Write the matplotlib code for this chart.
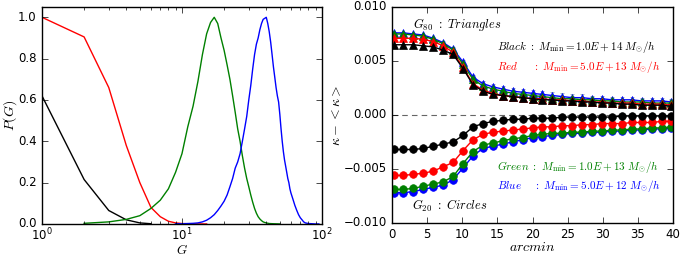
import numpy as np
import matplotlib
matplotlib.use("Agg")
import matplotlib.pyplot as plt

plt.style.use("classic")
plt.rcParams["font.size"] = 8.5
plt.rcParams["mathtext.fontset"] = "cm"

# ---- left panel: P(G) ----
g_black = [1, 2, 3, 4, 5, 6]
p_black = [0.62, 0.215, 0.065, 0.02, 0.005, 0.001]

g_red = [1, 2, 3, 4, 5, 6, 7, 8, 9, 10, 11, 12, 13, 14, 15]
p_red = [1.0, 0.905, 0.66, 0.38, 0.2, 0.08, 0.035, 0.013, 0.005, 0.002, 0.001, 0, 0, 0, 0]

g_green = [2, 3, 4, 5, 6, 7, 8, 9, 10, 11, 12, 13, 14, 15, 16, 17, 18, 19, 20,
           21, 22, 23, 24, 25, 26, 27, 28, 29, 30, 31, 32, 33, 34, 35, 36, 37,
           38, 39, 40, 42, 45, 50]
p_green = [0.003, 0.01, 0.022, 0.04, 0.075, 0.115, 0.17, 0.25, 0.34, 0.47, 0.57,
           0.69, 0.82, 0.92, 0.975, 1.0, 0.97, 0.9, 0.84, 0.77, 0.7, 0.62, 0.54,
           0.46, 0.40, 0.33, 0.27, 0.22, 0.18, 0.14, 0.105, 0.075, 0.052, 0.035,
           0.024, 0.016, 0.01, 0.007, 0.005, 0.002, 0.001, 0.0]

g_blue = [9, 10, 11, 12, 13, 14, 15, 16, 17, 18, 19, 20, 21, 22, 23, 24, 25, 26,
          27, 28, 29, 30, 31, 32, 33, 34, 35, 36, 37, 38, 39, 40, 41, 42, 43, 44,
          45, 46, 47, 48, 49, 50, 51, 52, 53, 54, 55, 56, 57, 58, 59, 60, 62, 64,
          66, 68, 70, 72, 74, 76, 80, 85, 90, 95]
p_blue = [0.001, 0.001, 0.002, 0.003, 0.005, 0.01, 0.018, 0.03, 0.045, 0.065,
          0.087, 0.11, 0.14, 0.18, 0.22, 0.27, 0.3, 0.34, 0.4, 0.46, 0.52, 0.6,
          0.67, 0.75, 0.82, 0.87, 0.9, 0.94, 0.97, 0.99, 0.995, 1.0, 0.97, 0.93,
          0.88, 0.82, 0.76, 0.71, 0.66, 0.62, 0.59, 0.53, 0.46, 0.4, 0.35, 0.31,
          0.28, 0.25, 0.22, 0.2, 0.17, 0.15, 0.12, 0.09, 0.066, 0.045, 0.03, 0.02,
          0.01, 0.005, 0.002, 0.001, 0.0, 0.0]

# ---- right panel: kappa - <kappa> ----
arcmin = np.linspace(0.2, 39.8, 29)

g80_black = [0.0065, 0.0065, 0.0065, 0.0064, 0.0063, 0.0060, 0.0056, 0.0043, 0.0028,
             0.0022, 0.0019, 0.0018, 0.0017, 0.0016, 0.0015, 0.0014, 0.0014, 0.0013,
             0.0013, 0.0012, 0.0012, 0.0011, 0.0011, 0.0010, 0.0010, 0.0009, 0.0009,
             0.0009, 0.0008]
g80_red = [0.0071, 0.0071, 0.0071, 0.0070, 0.0068, 0.0064, 0.0058, 0.0044, 0.0029,
           0.0023, 0.0020, 0.0018, 0.0017, 0.0016, 0.0015, 0.0015, 0.0014, 0.0014,
           0.0013, 0.0013, 0.0012, 0.0012, 0.0011, 0.0011, 0.0011, 0.0010, 0.0010,
           0.0010, 0.0009]
g80_green = [0.0075, 0.0075, 0.0074, 0.0073, 0.0070, 0.0066, 0.0060, 0.0047, 0.0033,
             0.0027, 0.0024, 0.0022, 0.0020, 0.0019, 0.0018, 0.0017, 0.0016, 0.0015,
             0.0015, 0.0014, 0.0014, 0.0013, 0.0013, 0.0012, 0.0012, 0.0012, 0.0011,
             0.0011, 0.0011]
g80_blue = [0.0076, 0.0076, 0.0075, 0.0074, 0.0071, 0.0067, 0.0061, 0.0049, 0.0035,
            0.0029, 0.0026, 0.0024, 0.0022, 0.0021, 0.0020, 0.0019, 0.0018, 0.0017,
            0.0016, 0.0016, 0.0015, 0.0015, 0.0014, 0.0014, 0.0014, 0.0013, 0.0013,
            0.0013, 0.0012]

g20_black = [-0.0032, -0.0032, -0.0032, -0.0031, -0.0029, -0.0027, -0.0025, -0.0019,
             -0.0011, -0.0008, -0.0006, -0.0005, -0.0004, -0.0004, -0.0003, -0.0003,
             -0.0003, -0.0002, -0.0002, -0.0002, -0.0002, -0.0002, -0.0002, -0.0001,
             -0.0001, -0.0001, -0.0001, -0.0001, -0.0001]
g20_red = [-0.0056, -0.0056, -0.0055, -0.0054, -0.0052, -0.0048, -0.0044, -0.0033,
           -0.0023, -0.0018, -0.0016, -0.0015, -0.0014, -0.0013, -0.0012, -0.0011,
           -0.0011, -0.0010, -0.0010, -0.0009, -0.0009, -0.0008, -0.0008, -0.0008,
           -0.0007, -0.0007, -0.0007, -0.0006, -0.0006]
g20_green = [-0.0069, -0.0069, -0.0068, -0.0066, -0.0064, -0.0062, -0.0057, -0.0045,
             -0.0034, -0.0028, -0.0026, -0.0024, -0.0022, -0.0021, -0.0019, -0.0018,
             -0.0017, -0.0017, -0.0016, -0.0016, -0.0015, -0.0015, -0.0014, -0.0014,
             -0.0013, -0.0013, -0.0012, -0.0012, -0.0011]
g20_blue = [-0.0072, -0.0072, -0.0071, -0.0069, -0.0067, -0.0065, -0.0060, -0.0049,
            -0.0038, -0.0031, -0.0029, -0.0027, -0.0025, -0.0023, -0.0021, -0.0020,
            -0.0019, -0.0018, -0.0017, -0.0017, -0.0016, -0.0016, -0.0015, -0.0015,
            -0.0014, -0.0014, -0.0013, -0.0013, -0.0012]

err = [0.0001, 0.0001, 0.0001, 0.0001, 0.00012, 0.00014, 0.00016, 0.00018, 0.0002,
       0.0002, 0.00022, 0.00024, 0.00025, 0.00026, 0.00027, 0.00028, 0.00029, 0.0003,
       0.0003, 0.0003, 0.0003, 0.0003, 0.0003, 0.0003, 0.0003, 0.0003, 0.0003,
       0.0003, 0.0003]

fig = plt.figure(figsize=(6.88, 2.58), dpi=100, facecolor="white")
ax1 = fig.add_axes([0.061, 0.132, 0.407, 0.841])
ax2 = fig.add_axes([0.570, 0.136, 0.408, 0.837])

ax1.plot(g_black, p_black, color="k", lw=1)
ax1.plot(g_red, p_red, color="r", lw=1)
ax1.plot(g_green, p_green, color="g", lw=1)
ax1.plot(g_blue, p_blue, color="b", lw=1)
ax1.set_xscale("log")
ax1.set_xlim(1, 100)
ax1.set_ylim(0, 1.05)
ax1.set_yticks([0.0, 0.2, 0.4, 0.6, 0.8, 1.0])
ax1.tick_params(axis="x", which="major", pad=2)
ax1.set_xlabel("$G$", fontsize=9.5, labelpad=0)
ax1.set_ylabel("$P(G)$", fontsize=10, labelpad=-1)

series = [("b", g80_blue, g20_blue), ("g", g80_green, g20_green),
          ("r", g80_red, g20_red), ("k", g80_black, g20_black)]
for c, tri, circ in series:
    ax2.errorbar(arcmin, tri, yerr=err, color=c, marker="^", ms=5.5, mec=c,
                 lw=1, elinewidth=0.8, capsize=1.5, ecolor="#7a9aa8")
    ax2.errorbar(arcmin, circ, yerr=err, color=c, marker="o", ms=5.5, mec=c,
                 lw=1, elinewidth=0.8, capsize=1.5, ecolor="#7a9aa8")

ax2.axhline(0, color="0.4", ls="--", dashes=(4, 3), lw=0.8)
ax2.set_xlim(0, 40)
ax2.set_ylim(-0.01, 0.01)
ax2.set_yticks([-0.01, -0.005, 0.0, 0.005, 0.01])
ax2.set_xlabel("$arcmin$", fontsize=10, labelpad=-1)
ax2.set_ylabel(r"$\kappa - <\kappa>$", fontsize=10, labelpad=0)

fs = 9
fm = 8
ax2.text(3.0, 0.0084, r"$G_{80}\ :\ Triangles$", fontsize=fs, va="center")
ax2.text(14.9, 0.0063, r"$Black\ :\ M_{\rm min}=1.0E+14\ M_{\odot}/h$",
         fontsize=fm, color="k", va="center")
ax2.text(14.9, 0.0044, r"$Red\ \ \ \ \ :\ M_{\rm min}=5.0E+13\ M_{\odot}/h$",
         fontsize=fm, color="r", va="center")
ax2.text(14.9, -0.0048, r"$Green\ :\ M_{\rm min}=1.0E+13\ M_{\odot}/h$",
         fontsize=fm, color="g", va="center")
ax2.text(14.9, -0.0066, r"$Blue\ \ \ \ :\ M_{\rm min}=5.0E+12\ M_{\odot}/h$",
         fontsize=fm, color="b", va="center")
ax2.text(2.8, -0.0084, r"$G_{20}\ :\ Circles$", fontsize=fs, va="center")

fig.savefig("out.png", dpi=100, facecolor="white")
